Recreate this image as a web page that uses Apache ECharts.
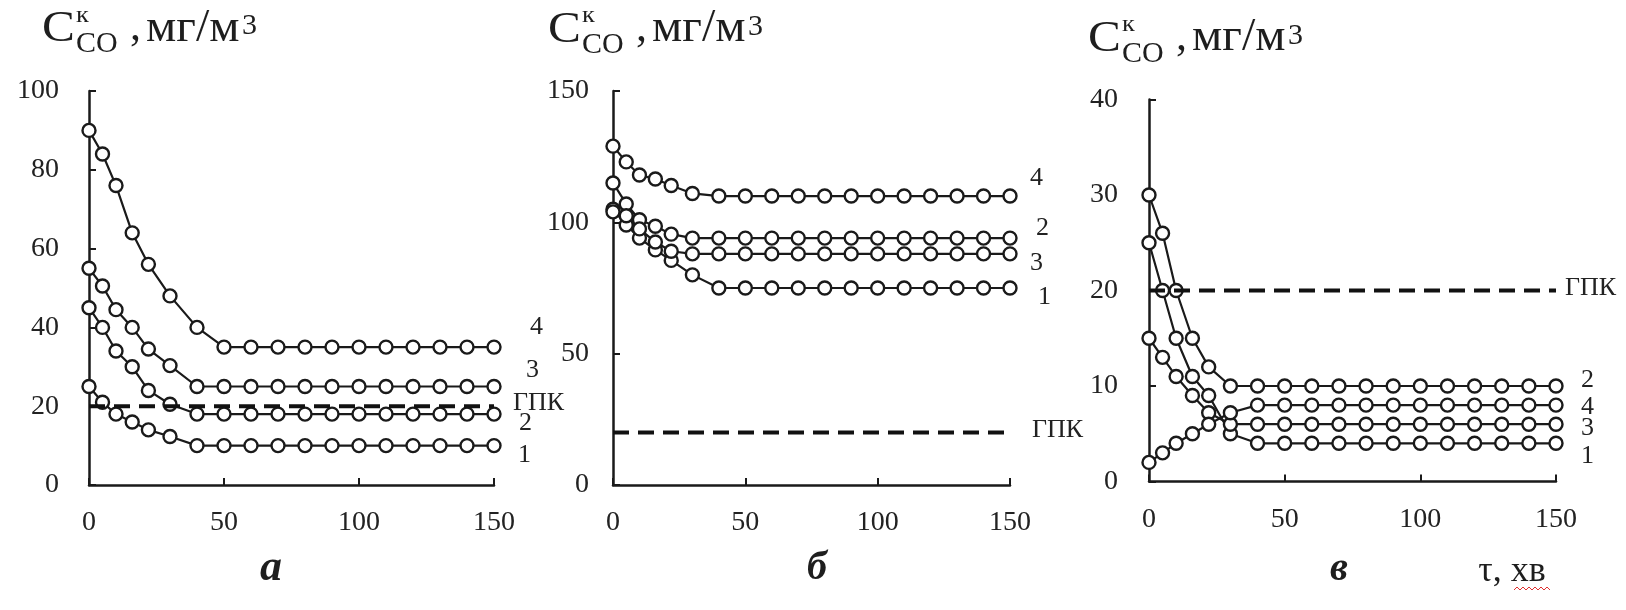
<!DOCTYPE html>
<html><head><meta charset="utf-8">
<script src="https://cdn.jsdelivr.net/npm/echarts@6/dist/echarts.min.js"></script>
<style>html,body{margin:0;padding:0;background:#fff}#c{width:1626px;height:610px}</style>
</head><body><div id="c"></div>
<script>
// ---- data ----
const times = [0,5,10,16,22,30,40,50,60,70,80,90,100,110,120,130,140,150];
// panel а
const panelA_1 = [25,21,18,16,14,12.3,10,10,10,10,10,10,10,10,10,10,10,10];
const panelA_2 = [45,40,34,30,24,20.5,18,18,18,18,18,18,18,18,18,18,18,18];
const panelA_3 = [55,50.5,44.5,40,34.5,30.3,25,25,25,25,25,25,25,25,25,25,25,25];
const panelA_4 = [90,84,76,64,56,48,40,35,35,35,35,35,35,35,35,35,35,35];
// panel б
const panelB_1 = [105,99,94,89.5,85.5,80,75,75,75,75,75,75,75,75,75,75,75,75];
const panelB_2 = [115,107,101,98.5,95.5,94,94,94,94,94,94,94,94,94,94,94,94,94];
const panelB_3 = [104,102.5,97.5,92.5,89,88,88,88,88,88,88,88,88,88,88,88,88,88];
const panelB_4 = [129,123,118,116.5,114,111,110,110,110,110,110,110,110,110,110,110,110,110];
// panel в
const panelC_1 = [25,20,15,11,9,5,4,4,4,4,4,4,4,4,4,4,4,4];
const panelC_2 = [30,26,20,15,12,10,10,10,10,10,10,10,10,10,10,10,10,10];
const panelC_3 = [15,13,11,9,7.2,6,6,6,6,6,6,6,6,6,6,6,6,6];
const panelC_4 = [2,3,4,5,6,7.2,8,8,8,8,8,8,8,8,8,8,8,8];
// limit line (ГПК)
const gpkLevel = 20;
const gpkSpan = [0,150];
const seriesNames = ['1','2','3','4'];
const gpkName = 'ГПК';
const panelLetters = ['а','б','в'];
const xAxisName = 'τ, хв';
const yMax = [100,150,40];
const yStep = [20,50,10];

// ---- layout / style ----
const FONT = "'Liberation Serif','Times New Roman',serif";
const INK = '#1a1a1a';
const grids = [
  {left:89, top:91, width:405, height:394},
  {left:613, top:91, width:397, height:394},
  {left:1149, top:99.5, width:407, height:382}
];
const yLabelMargin = [30,24,31];
const labelOffsets = [
  {'1':[24,10],'2':[25,9],'3':[32,-16],'4':[36,-20],'ГПК':[19,-3]},
  {'1':[28,9],'2':[26,-10],'3':[20,9.5],'4':[20,-18],'ГПК':[22,-2]},
  {'1':[25,13],'2':[25,-6],'3':[25,4],'4':[25,2],'ГПК':[9,-2]}
];
const panels = [
  [panelA_1,panelA_2,panelA_3,panelA_4],
  [panelB_1,panelB_2,panelB_3,panelB_4],
  [panelC_1,panelC_2,panelC_3,panelC_4]
];

const xAxes = [], yAxes = [], series = [];
panels.forEach((vals, p) => {
  xAxes.push({
    type:'value', gridIndex:p, min:0, max:150, interval:50,
    axisLine:{show:true, onZero:false, lineStyle:{color:INK, width:2.5}},
    axisTick:{show:true, inside:true, length:7, lineStyle:{color:INK, width:2}},
    splitLine:{show:false},
    axisLabel:{color:'#222', fontFamily:FONT, fontSize:28, margin:24}
  });
  yAxes.push({
    type:'value', gridIndex:p, min:0, max:yMax[p], interval:yStep[p],
    axisLine:{show:true, onZero:false, lineStyle:{color:INK, width:2.5}},
    axisTick:{show:true, inside:true, length:7, lineStyle:{color:INK, width:2}},
    splitLine:{show:false},
    axisLabel:{color:'#222', fontFamily:FONT, fontSize:28, margin:yLabelMargin[p]}
  });
  vals.forEach((arr, i) => {
    const name = seriesNames[i];
    series.push({
      type:'line', name:name, xAxisIndex:p, yAxisIndex:p,
      data: times.map((t,k)=>[t, arr[k]]),
      symbol:'circle', symbolSize:13, showSymbol:true,
      itemStyle:{color:'#fff', borderColor:INK, borderWidth:2.4},
      lineStyle:{color:INK, width:2.2},
      silent:true, z:3,
      endLabel:{show:true, formatter:name, distance:0, align:'left', verticalAlign:'middle',
        offset:labelOffsets[p][name], color:'#222', fontFamily:FONT, fontSize:26}
    });
  });
  series.push({
    type:'line', name:gpkName, xAxisIndex:p, yAxisIndex:p,
    data: gpkSpan.map(t=>[t, gpkLevel]),
    showSymbol:false, symbol:'none', silent:true, z:5,
    lineStyle:{color:'#111', width:4, type:[16,9]},
    endLabel:{show:true, formatter:gpkName, distance:0, align:'left', verticalAlign:'middle',
      offset:labelOffsets[p][gpkName], color:'#222', fontFamily:FONT, fontSize:26}
  });
});

// axis title pieces: C^к_CO , мг/м^3
function titleAt(x0, base) {
  const t = (text, dx, y, size, sx) => ({type:'text', silent:true, x:x0+dx, y:y, scaleX:sx||1,
    style:{text:text, x:0, y:0, fontFamily:FONT, fontSize:size, fill:'#1e1e1e',
    align:'left', verticalAlign:'middle', textAlign:'left', textVerticalAlign:'middle'}});
  return [
    t('C', 0, base-14, 44, 1.12),
    t('к', 34, base-28, 24, 1.1),
    t('CO', 34, base+1, 30),
    t(',', 88, base-15, 44),
    t('мг/м', 104, base-15, 46, 1.04),
    t('3', 200, base-17, 30)
  ];
}
const txt = (text, x, y, size, extra) => ({type:'text', silent:true, style:Object.assign({
  text:text, x:x, y:y, fontFamily:FONT, fontSize:size, fill:'#1e1e1e',
  align:'center', verticalAlign:'middle', textAlign:'center', textVerticalAlign:'middle'}, extra||{})});

const squiggle = [];
for (let x = 1514; x <= 1552; x += 3) squiggle.push([x, ((x-1514)/3)%2 ? 587 : 590]);

const graphic = [].concat(
  titleAt(42, 43.5), titleAt(548, 44), titleAt(1088, 53),
  [
    txt(panelLetters[0], 271, 569, 44, {fontWeight:'bold', fontStyle:'italic'}),
    txt(panelLetters[1], 817, 569, 40, {fontWeight:'bold', fontStyle:'italic'}),
    txt(panelLetters[2], 1339, 570, 40, {fontWeight:'bold', fontStyle:'italic'}),
    txt(xAxisName, 1512, 572, 36),
    {type:'polyline', silent:true, shape:{points:squiggle}, style:{stroke:'#e03030', lineWidth:1, fill:null}}
  ]
);

const chart = echarts.init(document.getElementById('c'), null, {renderer:'canvas'});
chart.setOption({
  animation:false, backgroundColor:'#fff',
  grid:grids, xAxis:xAxes, yAxis:yAxes, series:series, graphic:graphic
});
</script></body></html>
